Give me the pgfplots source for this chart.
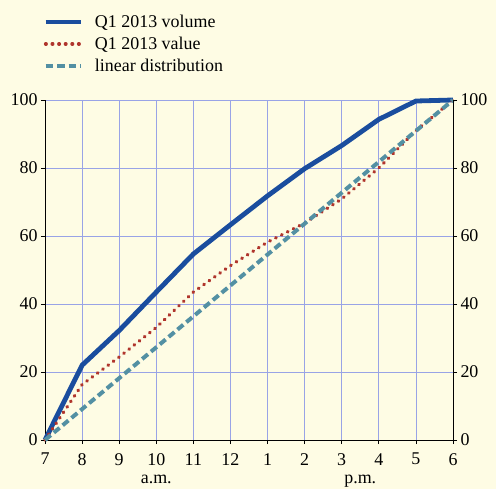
\documentclass[border=0pt]{standalone}
\usepackage{pgfplots}
\pgfplotsset{compat=1.18}
\usepackage{fontspec}
\setmainfont{Liberation Serif}
\definecolor{bgc}{HTML}{FEFCE4}
\definecolor{gridc}{HTML}{99A3E6}
\definecolor{volc}{HTML}{1A4D9E}
\definecolor{valc}{HTML}{B0352C}
\definecolor{linc}{HTML}{5390A3}
\pgfplotsset{
  common/.style={
    at={(0,0)}, anchor=south west,
    scale only axis, width=408bp, height=340bp,
    xmin=0, xmax=11, ymin=0, ymax=100,
    ytick={0,20,...,100},
    axis line style={black, line width=0.8bp},
    tick style={black, line width=0.8bp},
    tick align=outside, major tick length=4bp,
    font=\fontsize{18}{21}\selectfont,
    /pgf/number format/assume math mode=true,
    clip=false,
  }
}
\begin{document}
\begin{tikzpicture}
\fill[bgc] (-45bp,-49bp) rectangle (451bp,440bp);
\useasboundingbox (-45bp,-49bp) rectangle (451bp,440bp);
\begin{axis}[common,
  xtick={0,...,11}, xticklabels={7,8,9,10,11,12,1,2,3,4,5,6},
  xticklabel style={inner sep=1bp, yshift=-8bp},
  axis x line*=bottom, axis y line*=left,
  grid=major, grid style={gridc, line width=0.8bp},
  legend style={draw=none, fill=none, at={(axis description cs:0,1)}, anchor=south west,
    xshift=-5bp, yshift=23bp, font=\fontsize{18}{21}\selectfont, row sep=4bp,
    nodes={inner sep=2bp}},
  legend cell align=left,
  legend image code/.code={\draw[#1] (0bp,0bp) -- (35bp,0bp); \path (45bp,0bp);},
]
\addplot[volc, line width=4.8bp] coordinates {(0,0)(1,22)(2,32.2)(3,43.5)(4,54.7)(5,63.3)(6,71.8)(7,79.8)(8,86.6)(9,94.3)(10,99.7)(11,100)};
\addlegendentry{Q1 2013 volume}
\addplot[valc, line width=3.4bp, line cap=round, dash pattern=on 0.6bp off 6bp] coordinates {(0,0)(1,16.3)(2,24.4)(3,33.1)(4,43.5)(5,51.3)(6,58.2)(7,63.8)(8,70.9)(9,80)(10,91)(11,100)};
\addlegendentry{Q1 2013 value}
\addplot[linc, line width=4bp, dash pattern=on 7.5bp off 4bp] coordinates {(0,0)(11,100)};
\addlegendentry{linear distribution}
\node[font=\fontsize{18}{21}\selectfont, anchor=base, inner sep=0pt] at (axis cs:3,0) [yshift=-43bp] {a.m.};
\node[font=\fontsize{18}{21}\selectfont, anchor=base, inner sep=0pt] at (axis cs:8.5,0) [yshift=-43bp] {p.m.};
\end{axis}
\begin{axis}[common, axis y line*=right, hide x axis]
\addplot[draw=none] coordinates {(0,0)};
\end{axis}
\end{tikzpicture}
\end{document}
